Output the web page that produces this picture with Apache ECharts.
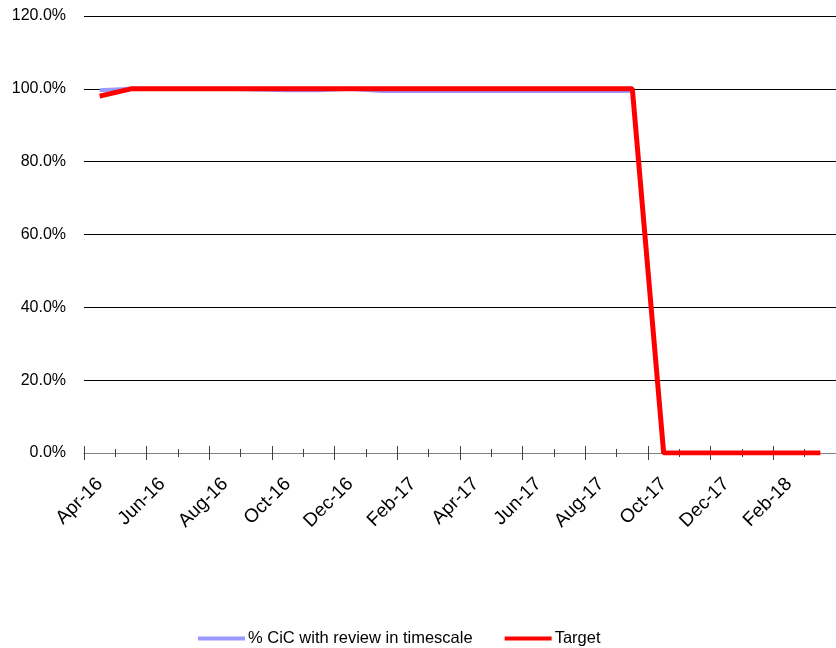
<!DOCTYPE html>
<html>
<head>
<meta charset="utf-8">
<script src="https://cdn.jsdelivr.net/npm/echarts@6/dist/echarts.min.js"></script>
<style>html,body{margin:0;padding:0;background:#fff}#c{width:836px;height:648px}</style>
</head>
<body>
<div id="c"></div>
<script>
const months = ['Apr-16','May-16','Jun-16','Jul-16','Aug-16','Sep-16','Oct-16','Nov-16','Dec-16','Jan-17','Feb-17','Mar-17','Apr-17','May-17','Jun-17','Jul-17','Aug-17','Sep-17','Oct-17','Nov-17','Dec-17','Jan-18','Feb-18','Mar-18'];
const reviewPct = [99.6,100,100,100,100,99.8,99.6,99.6,100,99.4,99.4,99.4,99.4,99.4,99.4,99.4,99.4,99.4,null,null,null,null,null,null];
const target = [98,100,100,100,100,100,100,100,100,100,100,100,100,100,100,100,100,100,0,0,0,0,0,0];
const yTicks = {min:0, max:120, interval:20};
const FONT = 'Liberation Sans';

function tickAxis(len, inside, interval){
  return {
    type:'category', data:months, gridIndex:0, position:'bottom', boundaryGap:true,
    axisLine:{show:false},
    axisTick:{show:true, interval:interval, length:len, inside:inside, lineStyle:{color:'#404040', width:1}},
    axisLabel:{show:false}, splitLine:{show:false}
  };
}
const chart = echarts.init(document.getElementById('c'));
chart.setOption({
  animation:false,
  grid:{left:84, top:16, width:756, height:437},
  legend:{
    top:625, left:193, itemWidth:47, itemHeight:4, itemGap:32, icon:'rect',
    textStyle:{fontFamily:FONT, fontSize:16.5, color:'#000', padding:[0,0,0,-2]},
    data:['% CiC with review in timescale','Target']
  },
  xAxis:[
    {
      type:'category', data:months, position:'bottom', boundaryGap:true,
      axisLine:{show:true, lineStyle:{color:'#808080', width:1}},
      axisTick:{show:true, interval:0, length:4, lineStyle:{color:'#404040'}},
      axisLabel:{interval:1, rotate:45, fontFamily:FONT, fontSize:19, color:'#000', margin:28},
      splitLine:{show:false}
    },
    tickAxis(4, true, 0),
    tickAxis(7, false, 1),
    tickAxis(7, true, 1)
  ],
  yAxis:{
    type:'value', min:yTicks.min, max:yTicks.max, interval:yTicks.interval,
    axisLine:{show:false}, axisTick:{show:false},
    axisLabel:{formatter:v=>v.toFixed(1)+'%', fontFamily:FONT, fontSize:16, color:'#000', margin:18},
    splitLine:{lineStyle:{color:'#000', width:1}}
  },
  series:[
    {name:'% CiC with review in timescale', type:'line', data:reviewPct, xAxisIndex:0, symbol:'none',
     lineStyle:{color:'#9999FF', width:4}, itemStyle:{color:'#9999FF'}, z:2},
    {name:'Target', type:'line', data:target, xAxisIndex:0, symbol:'none',
     lineStyle:{color:'#FF0000', width:5}, itemStyle:{color:'#FF0000'}, z:3}
  ]
});
</script>
</body>
</html>
